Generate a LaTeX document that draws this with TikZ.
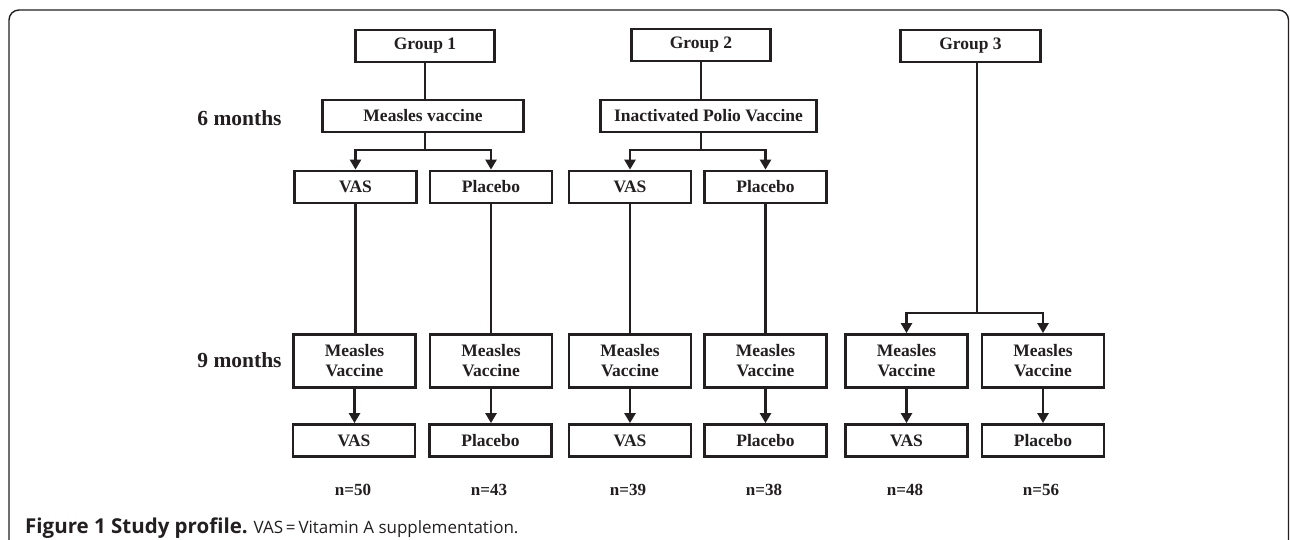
\documentclass[tikz,border=0pt]{standalone}
\usepackage{fontspec}
\setmainfont{Liberation Serif}
\newfontfamily\capfont{Open Sans}
\usetikzlibrary{arrows.meta}
\definecolor{ink}{HTML}{231F20}
\begin{document}
\begin{tikzpicture}[x=1pt,y=-1pt]
\tikzset{
  box/.style={draw=ink, line width=2.8pt, inner sep=0pt, text=ink, align=center,
    font=\bfseries\fontsize{17.5}{20}\selectfont, minimum height=32pt},
  small/.style={box, minimum width=122pt},
  conn/.style={draw=ink, line width=2.8pt},
  arr/.style={conn, -{Triangle[width=11pt,length=10pt]}},
  lbl/.style={text=ink, font=\bfseries\fontsize{21.5}{24}\selectfont, inner sep=0pt},
  nlbl/.style={text=ink, font=\bfseries\fontsize{17}{20}\selectfont, inner sep=0pt},
}
\clip (0,0) rectangle (1290,540);
\fill[white] (0,0) rectangle (1290,540);
\draw[ink, line width=1.4pt, rounded corners=10pt] (9,10) rectangle (1288.5,600);

% groups
\node[box, minimum width=139pt] (g1) at (425,46) {Group 1};
\node[box, minimum width=139pt] (g2) at (701,45) {Group 2};
\node[box, minimum width=140pt] (g3) at (970.5,46) {Group 3};

% 6 months
\node[box, minimum width=201pt] (v1) at (423,116) {Measles vaccine};
\node[box, minimum width=216pt] (v2) at (708.5,116) {Inactivated Polio Vaccine};

% level 3
\node[small] (a1) at (355.5,187) {VAS};
\node[small] (a2) at (491,187) {Placebo};
\node[small] (a3) at (630,187) {VAS};
\node[small] (a4) at (765.5,187) {Placebo};

% level 4
\node[small, minimum height=53pt] (b1) at (354.5,361) {Measles\\Vaccine};
\node[small, minimum height=53pt] (b2) at (491,361) {Measles\\Vaccine};
\node[small, minimum height=53pt] (b3) at (630,361) {Measles\\Vaccine};
\node[small, minimum height=53pt] (b4) at (765.5,361) {Measles\\Vaccine};
\node[small, minimum height=53pt] (b5) at (906.5,361) {Measles\\Vaccine};
\node[small, minimum height=53pt] (b6) at (1043,361) {Measles\\Vaccine};

% level 5
\node[small] (c1) at (354,440.5) {VAS};
\node[small] (c2) at (490.5,440.5) {Placebo};
\node[small] (c3) at (630,440.5) {VAS};
\node[small] (c4) at (765.5,440.5) {Placebo};
\node[small] (c5) at (906.5,440.5) {VAS};
\node[small] (c6) at (1043,440.5) {Placebo};

% month labels
\node[lbl] (m6) at (239.5,118) {6 months};
\node[lbl] (m9) at (239.5,360) {9 months};

% n labels
\node[nlbl] (n1) at (353,490) {n=50};
\node[nlbl] (n2) at (489,490) {n=43};
\node[nlbl] (n3) at (628,490) {n=39};
\node[nlbl] (n4) at (764,490) {n=38};
\node[nlbl] (n5) at (905,490) {n=48};
\node[nlbl] (n6) at (1041,490) {n=56};

% caption
\node[anchor=base west, inner sep=0pt, text=ink, font=\capfont\fontsize{17}{22}\selectfont] (cap) at (25,533)
  {{\fontsize{20.5}{22}\selectfont\bfseries Figure 1 Study profile.} VAS\,=\,Vitamin A supplementation.};

% connectors
\coordinate (k1) at (0,150);
\coordinate (k3) at (0,313);
\draw[conn] (g1.south) -- (g1.south |- v1.north);
\draw[conn] (g2.south) -- (g2.south |- v2.north);
\draw[arr] (g1.south |- v1.south) -- (g1.south |- k1) -| (a1.north);
\draw[arr] (g1.south |- k1) -| (a2.north);
\draw[arr] (g2.south |- v2.south) -- (g2.south |- k1) -| (a3.north);
\draw[arr] (g2.south |- k1) -| (a4.north);
\draw[conn] ([xshift=6.5pt]g3.south) -- ([xshift=6.5pt]g3.south |- k3);
\draw[arr] ([xshift=6.5pt]g3.south |- k3) -| (b5.north);
\draw[arr] ([xshift=6.5pt]g3.south |- k3) -| (b6.north);

\draw[conn] (a1.south) -- (a1.south |- b1.north);
\draw[conn] (a2.south) -- (a2.south |- b2.north);
\draw[conn] (a3.south) -- (a3.south |- b3.north);
\draw[conn] (a4.south) -- (a4.south |- b4.north);

\foreach \i in {1,...,6} {
  \draw[arr] (b\i.south) -- (b\i.south |- c\i.north);
}
\end{tikzpicture}
\end{document}
